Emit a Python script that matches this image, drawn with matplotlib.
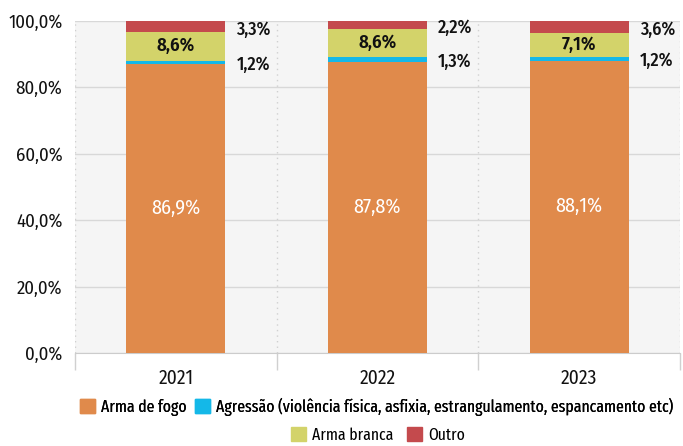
import matplotlib
matplotlib.use("Agg")
import matplotlib.pyplot as plt
from matplotlib.patches import Patch
import numpy as np

years = ["2021", "2022", "2023"]
arma_fogo = [86.9, 87.8, 88.1]
agressao = [1.2, 1.3, 1.2]
arma_branca = [8.6, 8.6, 7.1]
outro = [3.3, 2.2, 3.6]
series_names = ["Arma de fogo",
                "Agressão (violência física, asfixia, estrangulamento, espancamento etc)",
                "Arma branca", "Outro"]
colors = ["#E08A4B", "#14B8E8", "#D3D36A", "#C44A4D"]
yticks = [0, 20, 40, 60, 80, 100]

plt.rcParams['font.family'] = ['Fira Sans Condensed', 'DejaVu Sans']
legfont = ['Fira Sans Extra Condensed', 'Fira Sans Condensed', 'DejaVu Sans']

fig = plt.figure(figsize=(6.83, 4.46), dpi=100)
ax = fig.add_axes([75/683, 1-353/446, 605/683, 332/446])
ax.set_facecolor("#f5f5f5")

x = np.arange(len(years))
w = 0.49
series = [arma_fogo, agressao, arma_branca, outro]
bottom = np.zeros(len(years))
for vals, c in zip(series, colors):
    ax.bar(x, vals, w, bottom=bottom, color=c, zorder=3, linewidth=0)
    bottom += np.array(vals)

txtc = "#111111"
for i in range(len(years)):
    ax.text(x[i], arma_fogo[i]/2, f"{arma_fogo[i]:.1f}%".replace(".", ","),
            ha="center", va="center", color="white", fontsize=14.5, zorder=4)
    yb = arma_fogo[i] + agressao[i] + arma_branca[i]/2
    ax.text(x[i], yb, f"{arma_branca[i]:.1f}%".replace(".", ","),
            ha="center", va="center", color=txtc, fontsize=13.5, fontweight="semibold", zorder=4)
    ya = arma_fogo[i] + agressao[i]/2 - 0.6
    ax.text(x[i] + 0.30, ya, f"{agressao[i]:.1f}%".replace(".", ","),
            ha="left", va="center", color=txtc, fontsize=13, fontweight="medium", zorder=4)
    yo = arma_fogo[i] + agressao[i] + arma_branca[i] + outro[i]/2 - 1.0
    ax.text(x[i] + 0.30, yo, f"{outro[i]:.1f}%".replace(".", ","),
            ha="left", va="center", color=txtc, fontsize=13, fontweight="medium", zorder=4)

ax.set_xlim(-0.5, 2.5)
ax.set_ylim(0, 100)
ax.set_yticks(yticks)
ax.set_yticklabels([f"{v:.1f}%".replace(".", ",") for v in yticks], fontsize=13.5, color=txtc)
ax.tick_params(axis="y", length=0, pad=9)
ax.set_xticks(x)
ax.set_xticklabels(years, fontsize=14, color=txtc)
ax.set_xticks([-0.5, 0.5, 1.5, 2.5], minor=True)
ax.tick_params(axis="x", which="major", length=0, pad=11)
ax.tick_params(axis="x", which="minor", length=12, color="#d0d0d0", width=1)
ax.grid(axis="y", color="#d8d8d8", linewidth=1, zorder=1)
ax.grid(axis="x", which="minor", color="#d0d0d0", linestyle=(0, (1, 3)), linewidth=1, zorder=1)
for s in ["top", "left", "right"]:
    ax.spines[s].set_visible(False)
ax.spines["bottom"].set_color("#cccccc")
ax.spines["bottom"].set_zorder(2)

lp = dict(family=legfont, size=12.3)
h1 = [Patch(color=colors[0]), Patch(color=colors[1])]
h2 = [Patch(color=colors[2]), Patch(color=colors[3])]
leg1 = fig.legend(h1, series_names[:2], loc="center", bbox_to_anchor=(377/683, 1-407/446),
                  ncol=2, frameon=False, prop=lp, handlelength=0.88, handleheight=0.88,
                  handletextpad=0.35, columnspacing=0.5, borderaxespad=0, borderpad=0)
fig.add_artist(leg1)
leg2 = fig.legend(h2, series_names[2:], loc="center", bbox_to_anchor=(378/683, 1-435/446),
                  ncol=2, frameon=False, prop=lp, handlelength=0.88, handleheight=0.88,
                  handletextpad=0.35, columnspacing=0.8, borderaxespad=0, borderpad=0)

fig.savefig("out.png", dpi=100)
